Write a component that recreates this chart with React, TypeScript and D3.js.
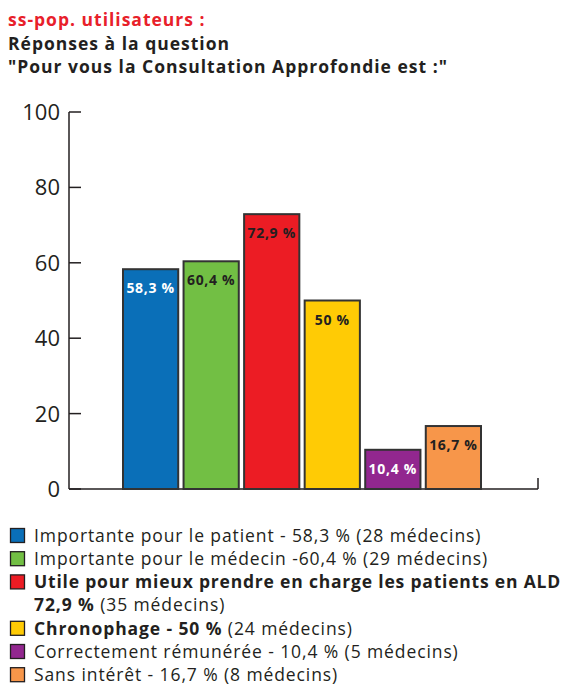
import React from "react";
import * as d3 from "d3";

const categories = [
  "Importante pour le patient",
  "Importante pour le médecin",
  "Utile pour mieux prendre en charge les patients en ALD",
  "Chronophage",
  "Correctement rémunérée",
  "Sans intérêt",
];
const values = [58.3, 60.4, 72.9, 50, 10.4, 16.7];
const barLabels = ["58,3 %", "60,4 %", "72,9 %", "50 %", "10,4 %", "16,7 %"];
const colors = ["#0a6fb8", "#72bf44", "#ec1c24", "#ffcb05", "#92278f", "#f7964a"];
const labelColors = ["#ffffff", "#231f20", "#231f20", "#231f20", "#ffffff", "#231f20"];
const yTicks = [0, 20, 40, 60, 80, 100];

// legend rows: color index (or -1 for continuation), segments [text, bold]
const legendRows: { c: number; segs: [string, boolean][] }[] = [
  { c: 0, segs: [["Importante pour le patient - 58,3 % (28 médecins)", false]] },
  { c: 1, segs: [["Importante pour le médecin -60,4 % (29 médecins)", false]] },
  { c: 2, segs: [["Utile pour mieux prendre en charge les patients en ALD", true]] },
  { c: -1, segs: [["72,9 %", true], [" (35 médecins)", false]] },
  { c: 3, segs: [["Chronophage - 50 %", true], [" (24 médecins)", false]] },
  { c: 4, segs: [["Correctement rémunérée - 10,4 % (5 médecins)", false]] },
  { c: 5, segs: [["Sans intérêt - 16,7 % (8 médecins)", false]] },
];

const titleLines = [
  "ss-pop. utilisateurs :",
  "Réponses à la question",
  "\"Pour vous la Consultation Approfondie est :\"",
];

const FONT = "'Open Sans', 'Noto Sans', sans-serif";

export default function App() {
  const W = 563;
  const H = 686;
  const axisX = 69;
  const y = d3.scaleLinear().domain([0, 100]).range([489, 112]);
  const x = d3
    .scaleBand<number>()
    .domain(d3.range(values.length))
    .range([123, 481])
    .paddingInner(0.088)
    .paddingOuter(0);
  const ink = "#231f20";

  return (
    <svg
      width={W}
      height={H}
      style={{ position: "absolute", left: 0, top: 0, background: "#fff" }}
      fontFamily={FONT}
    >
      {/* titles */}
      {titleLines.map((t, i) => (
        <text
          key={i}
          x={8}
          y={26 + i * 23.5}
          fontSize={17.5}
          fontWeight={700}
          letterSpacing={1.0}
          fill={i === 0 ? "#e8202a" : ink}
        >
          {t}
        </text>
      ))}

      {/* y axis */}
      <line x1={axisX} x2={axisX} y1={y(100)} y2={y(0)} stroke={ink} strokeWidth={1.5} />
      {yTicks.map((t) => (
        <g key={t}>
          <line x1={axisX} x2={axisX + 12} y1={y(t)} y2={y(t)} stroke={ink} strokeWidth={1.5} />
          <text
            x={60}
            y={y(t)}
            dy="0.36em"
            textAnchor="end"
            fontSize={22}
            fill={ink}
          >
            {t}
          </text>
        </g>
      ))}
      {/* baseline */}
      <line x1={axisX} x2={538} y1={y(0)} y2={y(0)} stroke={ink} strokeWidth={1.5} />
      <line x1={538} x2={538} y1={y(0) - 11} y2={y(0)} stroke={ink} strokeWidth={1.5} />

      {/* bars */}
      {values.map((v, i) => (
        <g key={i}>
          <rect
            x={x(i)!}
            y={y(v)}
            width={x.bandwidth()}
            height={y(0) - y(v)}
            fill={colors[i]}
            stroke="#333"
            strokeWidth={2}
          />
          <text
            x={x(i)! + x.bandwidth() / 2}
            y={y(v) + 24}
            textAnchor="middle"
            fontSize={14}
            fontWeight={700}
            letterSpacing={0.7}
            fill={labelColors[i]}
          >
            {barLabels[i]}
          </text>
        </g>
      ))}

      {/* legend */}
      {legendRows.map((r, i) => {
        const cy = 535.5 + i * 23.2;
        return (
          <g key={i}>
            {r.c >= 0 && (
              <rect
                x={10.5}
                y={cy - 7}
                width={14}
                height={14}
                fill={colors[r.c]}
                stroke={ink}
                strokeWidth={1.3}
              />
            )}
            <text
              x={34}
              y={cy}
              dy="0.36em"
              fontSize={17.5}
              letterSpacing={i === 2 ? 0.8 : 0.9}
              fill={ink}
            >
              {r.segs.map((s, j) => (
                <tspan key={j} fontWeight={s[1] ? 700 : 400}>
                  {s[0]}
                </tspan>
              ))}
            </text>
          </g>
        );
      })}
    </svg>
  );
}
